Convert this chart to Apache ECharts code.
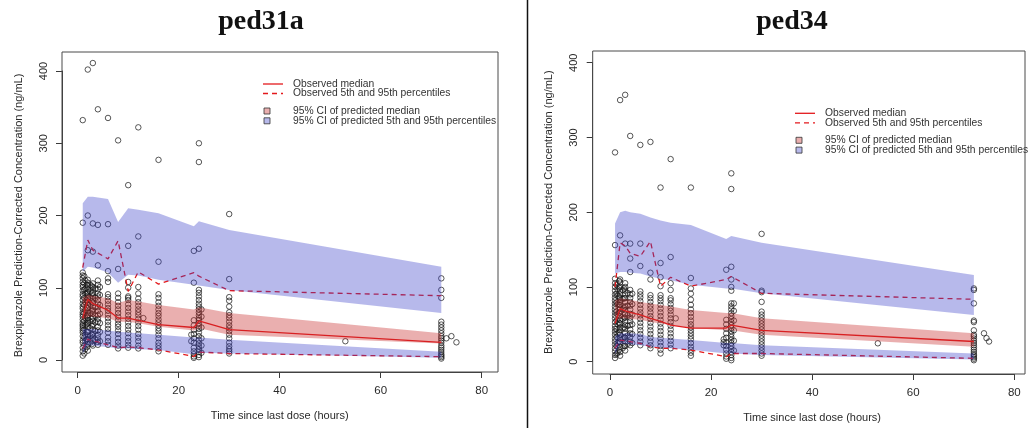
<!DOCTYPE html>
<html><head><meta charset="utf-8">
<script src="https://cdn.jsdelivr.net/npm/echarts@6/dist/echarts.min.js"></script>
<style>html,body{margin:0;padding:0;background:#fff}#c{width:1031px;height:428px}</style>
</head><body><div id="c"></div>
<script>
// ---------- shared ----------
const xTicks = [0, 20, 40, 60, 80];
const yTicks = [0, 100, 200, 300, 400];
const panelTitles = ['ped31a', 'ped34'];
const xTitle = 'Time since last dose (hours)';
const yTitle = 'Brexpiprazole Prediction-Corrected Concentration (ng/mL)';
const legendLabels = ['Observed median', 'Observed 5th and 95th percentiles',
  '95% CI of predicted median', '95% CI of predicted 5th and 95th percentiles'];

// ---------- band / line time grid ----------
const bandTimes = [1, 2, 3, 4, 6, 8, 10, 12, 16, 23, 24, 30, 72];

// ---------- ped31a ----------
const a_hiTop   = [217, 226, 226, 225, 223, 191, 210, 208, 203, 185, 192, 180, 129];
const a_hiBot   = [122, 129, 128, 126, 121, 107, 118, 117, 111, 104, 103, 97, 65];
const a_medTop  = [86, 90, 89, 88, 85, 79, 83, 81, 76, 70, 73, 65, 37];
const a_medBot  = [55, 60, 60, 59, 58, 53, 53, 51, 46, 41, 44, 35, 23];
const a_loTop   = [43, 43, 43, 42, 41, 39, 38, 37, 35, 31, 31, 28, 11.5];
const a_loBot   = [9, 20, 20, 19, 18, 16, 16, 15, 14, 8, 10, 9, 3];
const a_obsMed  = [58, 84, 78, 75, 69, 58, 58, 55, 49, 45, 54, 42, 24.5];
const a_obsP95  = [128, 166, 152, 148, 140, 165, 95, 122, 105, 121, 116, 96, 89];
const a_obsP5   = [16, 29, 26, 25, 21, 17, 18, 17, 14, 5, 11, 9, 4.6];

const a_obsTimes = [1, 1.3, 1.5, 1.8, 2, 2.5, 2.8, 3, 3.5, 4, 4.4, 6, 8, 10, 12, 13, 16, 22.5, 23, 24, 24.5, 30, 53, 72, 73, 74, 75];
const a_obsConc = [
  [6, 12, 17, 24, 27, 33, 38, 41, 44, 47, 49, 52, 56, 60, 63, 66, 71, 74, 78, 83, 88, 91, 96, 101, 104, 108, 113, 117, 121, 190, 332],
  [9, 20, 31, 42, 54, 65, 76, 86, 97, 106, 116],
  [15, 26, 35, 48, 58, 69, 80, 92, 99, 110],
  [18, 28, 39, 50, 61, 72, 83, 93, 104],
  [13, 22, 29, 34, 39, 46, 51, 55, 58, 62, 67, 72, 76, 80, 85, 89, 94, 98, 103, 107, 111, 152, 200, 402],
  [24, 33, 44, 53, 65, 77, 86, 95, 104],
  [22, 35, 47, 57, 68, 81, 92, 102],
  [20, 27, 31, 36, 42, 49, 54, 59, 64, 69, 74, 79, 84, 88, 93, 97, 101, 106, 150, 189, 411],
  [28, 40, 52, 61, 73, 86, 99],
  [21, 25, 30, 35, 41, 46, 53, 57, 62, 68, 73, 78, 83, 88, 92, 98, 104, 110, 131, 187, 347],
  [26, 39, 51, 64, 76, 90, 101],
  [21, 26, 31, 38, 43, 48, 53, 58, 63, 68, 72, 77, 82, 87, 91, 108, 113, 123, 188, 335],
  [16, 20, 25, 30, 36, 41, 46, 50, 55, 60, 65, 70, 75, 80, 86, 92, 126, 304],
  [17, 21, 26, 31, 37, 42, 47, 52, 57, 62, 67, 72, 77, 83, 86, 88, 100, 108, 158, 242],
  [16, 20, 26, 31, 36, 42, 47, 52, 57, 62, 66, 70, 75, 80, 85, 92, 101, 171, 322],
  [58],
  [12, 16, 20, 24, 30, 35, 40, 44, 48, 52, 56, 61, 65, 70, 75, 80, 86, 91, 136, 277],
  [26, 35],
  [3, 5, 8, 12, 17, 24, 30, 36, 42, 48, 55, 107, 151],
  [4, 7, 11, 15, 19, 23, 28, 33, 38, 43, 47, 51, 55, 58, 62, 66, 70, 74, 78, 83, 88, 93, 97, 154, 274, 300],
  [10, 20, 30, 45, 60, 70],
  [9, 12, 15, 19, 24, 30, 35, 40, 44, 48, 53, 58, 62, 66, 74, 82, 87, 112, 202],
  [26],
  [2, 4, 6, 8, 11, 14, 17, 20, 24, 27, 30, 33, 37, 41, 45, 49, 53, 86, 97, 113],
  [30],
  [33],
  [24.5]
];

// ---------- ped34 ----------
const b_hiTop   = [185, 200, 202, 200, 198, 193, 189, 186, 183, 164, 168, 159, 116];
const b_hiBot   = [118, 120, 120, 119, 118, 114, 111, 109, 103, 98, 98, 91.5, 62.5];
const b_medTop  = [82, 85, 84, 83, 80, 78, 76, 74, 69, 65, 65, 58, 38];
const b_medBot  = [55, 58, 58, 57, 56, 53, 51, 49, 45, 42, 42, 36, 20];
const b_loTop   = [34, 38, 38, 38, 37, 33, 32, 31, 29, 25, 25, 22, 11];
const b_loBot   = [10, 24, 24, 23, 22, 20, 19, 18, 16, 11, 11, 9, 3];
const b_obsMed  = [51, 71, 68, 66, 62.5, 58, 54, 49, 45, 45, 49, 42, 27];
const b_obsP95  = [100, 159, 155, 145, 141, 161, 101, 113, 101, 110, 114, 91.5, 83.5];
const b_obsP5   = [18, 29, 28, 27, 24.5, 20, 18, 18, 15.6, 6.7, 11, 11, 4.5];

const b_obsTimes = [1, 1.3, 1.5, 1.8, 2, 2.5, 2.8, 3, 3.5, 4, 4.4, 6, 8, 10, 12, 13, 16, 22.5, 23, 24, 24.5, 30, 53, 72, 74, 74.5, 75];
const b_obsConc = [
  [5, 9, 14, 18, 23, 27, 31, 36, 40, 44, 48, 53, 58, 62, 66, 70, 74, 78, 82, 86, 90, 95, 100, 105, 111, 156, 280],
  [10, 21, 33, 44, 55, 67, 79, 91, 103],
  [12, 25, 38, 50, 63, 77, 88, 97],
  [16, 27, 39, 52, 65, 76, 87, 99, 108],
  [8, 13, 20, 26, 31, 36, 42, 46, 51, 56, 61, 66, 71, 76, 80, 85, 90, 95, 100, 106, 110, 169, 350],
  [18, 30, 45, 57, 70, 84, 96],
  [21, 33, 46, 59, 72, 85, 98],
  [15, 21, 27, 32, 38, 44, 49, 54, 59, 64, 69, 74, 80, 85, 90, 95, 100, 105, 158, 357],
  [24, 35, 48, 62, 75, 92],
  [22, 27, 33, 38, 43, 49, 54, 59, 64, 70, 75, 80, 85, 90, 96, 120, 138, 158, 302],
  [25, 37, 50, 63, 77, 91],
  [22, 27, 32, 37, 42, 47, 52, 57, 62, 66, 71, 76, 81, 86, 90, 94, 128, 158, 290],
  [18, 22, 27, 32, 37, 42, 47, 52, 57, 61, 66, 71, 75, 80, 85, 89, 110, 119, 294],
  [11, 16, 21, 26, 31, 36, 41, 46, 51, 56, 61, 66, 71, 76, 81, 85, 89, 101, 113, 132, 233],
  [18, 23, 28, 33, 38, 43, 48, 53, 58, 63, 68, 72, 77, 82, 85, 96, 105, 140, 271],
  [58],
  [8, 12, 16, 20, 25, 30, 34, 38, 42, 46, 50, 55, 60, 65, 70, 76, 83, 91, 98, 112, 233],
  [22, 26, 30],
  [4, 7, 11, 16, 21, 26, 32, 38, 44, 50, 56, 123],
  [2, 5, 9, 13, 17, 21, 25, 29, 33, 37, 41, 45, 49, 53, 57, 61, 65, 70, 74, 78, 95, 100, 110, 127, 231, 252],
  [15, 28, 42, 55, 68, 78],
  [8, 11, 15, 19, 23, 27, 31, 35, 39, 43, 47, 51, 55, 59, 63, 67, 80, 93, 95, 171],
  [24.6],
  [2, 4, 6, 8, 10, 13, 16, 19, 22, 25, 28, 31, 34, 36, 42, 53, 55, 78, 96, 98],
  [38],
  [31.5],
  [27]
];

// ---------- styling ----------
const BLUE = 'rgba(55,60,200,0.36)';
const PINK = 'rgba(200,45,45,0.38)';
const RED = '#e3191c';
const AX = '#3a3a3a';
const FONT = '"Liberation Sans", Arial, sans-serif';

const grids = [
  {left: 77.7, top: 71, width: 404, height: 289},
  {left: 610, top: 62.7, width: 404.3, height: 299}
];
const frames = [
  {x: 62, y: 52, w: 436, h: 320},
  {x: 592.7, y: 51, w: 432.3, h: 323}
];
const xOff = [12, 12.3];
const yOff = [15.7, 17.3];
const legendPos = [{x: 263, y: 84}, {x: 795, y: 113.3}];
const titlePos = [{x: 261, y: 22}, {x: 792, y: 22}];

function pairs(times, conc) {
  const out = [];
  times.forEach((t, i) => conc[i].forEach(v => out.push([t, v])));
  return out;
}
function zipXY(xs, ys) { return xs.map((x, i) => [x, ys[i]]); }

function bandSeries(idx, lo, hi, color) {
  return {
    type: 'custom', xAxisIndex: idx, yAxisIndex: idx, z: 4, silent: true,
    data: bandTimes.map((x, i) => [x, lo[i], hi[i]]),
    encode: {x: 0, y: [1, 2]},
    renderItem: function (params, api) {
      if (params.dataIndex !== 0) return null;
      const pts = [];
      for (let i = 0; i < bandTimes.length; i++) pts.push(api.coord([bandTimes[i], hi[i]]));
      for (let i = bandTimes.length - 1; i >= 0; i--) pts.push(api.coord([bandTimes[i], lo[i]]));
      return {type: 'polygon', shape: {points: pts}, style: {fill: color}};
    }
  };
}
function lineSeries(idx, ys, dashed) {
  return {
    type: 'line', xAxisIndex: idx, yAxisIndex: idx, z: 3, silent: true,
    data: zipXY(bandTimes, ys), symbol: 'none', smooth: false,
    lineStyle: {color: RED, width: 1.3, type: dashed ? [5, 4] : 'solid'}
  };
}
function scatterSeries(idx, times, conc) {
  return {
    type: 'scatter', xAxisIndex: idx, yAxisIndex: idx, z: 2, silent: true, clip: false,
    data: pairs(times, conc), symbol: 'circle', symbolSize: 5.5,
    itemStyle: {color: 'rgba(0,0,0,0)', borderColor: '#161616', borderWidth: 0.9}
  };
}

const panels = [
  {times: a_obsTimes, conc: a_obsConc, hiTop: a_hiTop, hiBot: a_hiBot, medTop: a_medTop, medBot: a_medBot,
   loTop: a_loTop, loBot: a_loBot, med: a_obsMed, p95: a_obsP95, p5: a_obsP5},
  {times: b_obsTimes, conc: b_obsConc, hiTop: b_hiTop, hiBot: b_hiBot, medTop: b_medTop, medBot: b_medBot,
   loTop: b_loTop, loBot: b_loBot, med: b_obsMed, p95: b_obsP95, p5: b_obsP5}
];

const series = [];
panels.forEach((p, i) => {
  series.push(scatterSeries(i, p.times, p.conc));
  series.push(lineSeries(i, p.med, false));
  series.push(lineSeries(i, p.p95, true));
  series.push(lineSeries(i, p.p5, true));
  series.push(bandSeries(i, p.hiBot, p.hiTop, BLUE));
  series.push(bandSeries(i, p.medBot, p.medTop, PINK));
  series.push(bandSeries(i, p.loBot, p.loTop, BLUE));
});

const xAxes = grids.map((g, i) => ({
  gridIndex: i, type: 'value', min: xTicks[0], max: xTicks[xTicks.length - 1],
  interval: xTicks[1] - xTicks[0], offset: xOff[i],
  axisLine: {show: true, onZero: false, lineStyle: {color: AX, width: 1}},
  axisTick: {show: true, length: 6, lineStyle: {color: AX, width: 1}},
  axisLabel: {fontSize: 11.5, color: '#2a2a2a', margin: 13, fontFamily: FONT},
  splitLine: {show: false},
  name: xTitle, nameLocation: 'middle', nameGap: 38,
  nameTextStyle: {fontSize: 11, color: '#2a2a2a', fontFamily: FONT}
}));
const yAxes = grids.map((g, i) => ({
  gridIndex: i, type: 'value', min: yTicks[0], max: yTicks[yTicks.length - 1],
  interval: yTicks[1] - yTicks[0], offset: yOff[i],
  axisLine: {show: true, onZero: false, lineStyle: {color: AX, width: 1}},
  axisTick: {show: true, length: 6, lineStyle: {color: AX, width: 1}},
  axisLabel: {fontSize: 11, color: '#2a2a2a', margin: 13, rotate: 90, fontFamily: FONT},
  splitLine: {show: false},
  name: yTitle, nameLocation: 'middle', nameRotate: 90, nameGap: 38,
  nameTextStyle: {fontSize: 11, color: '#2a2a2a', fontFamily: FONT}
}));

const graphic = [];
frames.forEach(f => graphic.push({type: 'rect', shape: {x: f.x, y: f.y, width: f.w, height: f.h},
  style: {fill: 'none', stroke: '#4a4a4a', lineWidth: 1}, z: 10, silent: true}));
graphic.push({type: 'line', shape: {x1: 527.5, y1: 0, x2: 527.5, y2: 428},
  style: {stroke: '#111', lineWidth: 1.5}, silent: true});
titlePos.forEach((t, i) => graphic.push({type: 'text', x: t.x, y: t.y, silent: true,
  style: {text: panelTitles[i], font: 'bold 28px "Liberation Serif", "Times New Roman", serif', fill: '#111',
    textAlign: 'center', textVerticalAlign: 'middle', align: 'center', verticalAlign: 'middle'}}));
legendPos.forEach(L => {
  const tx = L.x + 30;
  const rows = [L.y, L.y + 9.5, L.y + 27, L.y + 36.8];
  graphic.push({type: 'line', shape: {x1: L.x, y1: rows[0], x2: L.x + 20, y2: rows[0]},
    style: {stroke: RED, lineWidth: 1.3}, silent: true});
  graphic.push({type: 'line', shape: {x1: L.x, y1: rows[1], x2: L.x + 20, y2: rows[1]},
    style: {stroke: RED, lineWidth: 1.3, lineDash: [5, 4]}, silent: true});
  graphic.push({type: 'rect', shape: {x: L.x + 1, y: rows[2] - 3, width: 6, height: 6},
    style: {fill: PINK, stroke: '#333', lineWidth: 0.8}, silent: true});
  graphic.push({type: 'rect', shape: {x: L.x + 1, y: rows[3] - 3, width: 6, height: 6},
    style: {fill: BLUE, stroke: '#333', lineWidth: 0.8}, silent: true});
  rows.forEach((ry, k) => graphic.push({type: 'text', x: tx, y: ry, silent: true,
    style: {text: legendLabels[k], font: '10.3px ' + FONT, fill: '#333',
      textAlign: 'left', textVerticalAlign: 'middle', align: 'left', verticalAlign: 'middle'}}));
});

const chart = echarts.init(document.getElementById('c'), null, {renderer: 'canvas'});
chart.setOption({
  animation: false,
  backgroundColor: '#fff',
  grid: grids.map(g => Object.assign({containLabel: false}, g)),
  xAxis: xAxes, yAxis: yAxes,
  series: series,
  graphic: graphic
});
</script></body></html>
